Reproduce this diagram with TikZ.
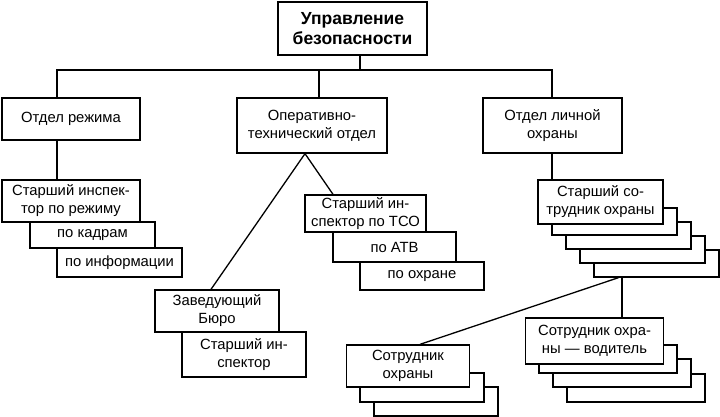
\documentclass[tikz,border=0pt]{standalone}
\usepackage{fontspec}
\setmainfont{Liberation Sans}
\begin{document}
\begin{tikzpicture}[x=1pt,y=-1pt,
  box/.style={draw, line width=1.3pt, fill=white, inner sep=0pt, align=center,
    font=\fontsize{14.8}{18}\selectfont},
  conn/.style={line width=1.3pt}]
\useasboundingbox (0,0) rectangle (720,417);
% top
\node[box, minimum width=149pt, minimum height=53pt, font=\fontsize{17.5}{20}\selectfont\bfseries] (top) at (352.5,28.5) {Управление\\безопасности};
% departments
\node[box, minimum width=138pt, minimum height=42pt] (rez) at (71,119) {Отдел режима};
\node[box, minimum width=150pt, minimum height=55pt] (oper) at (312,125.5) {Оперативно-\\технический отдел};
\node[box, minimum width=139pt, minimum height=55pt] (lich) at (552.5,125.5) {Отдел личной\\охраны};
% regime branch
\node[box, minimum width=138pt, minimum height=42pt] (sir) at (71,201) {Старший инспек-\\тор по режиму};
\node[box, minimum width=125pt, minimum height=26pt] (kadr) at (92.5,235) {по кадрам};
\node[box, minimum width=125pt, minimum height=29pt] (info) at (119.5,262.5) {по информации};
% operative branch
\node[box, minimum width=121pt, minimum height=37pt] (tso) at (365.5,213.5) {Старший ин-\\спектор по ТСО};
\node[box, minimum width=123pt, minimum height=30pt] (atv) at (394.5,247) {по АТВ};
\node[box, minimum width=124pt, minimum height=28pt] (ohr) at (422,276) {по охране};
\node[box, minimum width=124pt, minimum height=42pt] (zav) at (217,311) {Заведующий\\Бюро};
\node[box, minimum width=124pt, minimum height=45pt] (si) at (244,354.5) {Старший ин-\\спектор};
% personal guard: senior stack
\node[box, minimum width=125pt, minimum height=27pt] (sso4) at (656.5,263.5) {};
\node[box, minimum width=125pt, minimum height=27pt] (sso3) at (642.5,249.5) {};
\node[box, minimum width=125pt, minimum height=27pt] (sso2) at (628.5,235.5) {};
\node[box, minimum width=125pt, minimum height=27pt] (sso1) at (614.5,221.5) {};
\node[box, minimum width=125pt, minimum height=44pt] (sso) at (600.5,202) {Старший со-\\трудник охраны};
% driver stack
\node[box, minimum width=138pt, minimum height=28pt] (sov3) at (636,388) {};
\node[box, minimum width=138pt, minimum height=28pt] (sov2) at (622,373) {};
\node[box, minimum width=138pt, minimum height=28pt] (sov1) at (608,359) {};
\node[box, minimum width=138pt, minimum height=46pt] (sov) at (594.5,341) {Сотрудник охра-\\ны — водитель};
% guard stack
\node[box, minimum width=124pt, minimum height=29pt] (so2) at (436,401.5) {};
\node[box, minimum width=124pt, minimum height=29pt] (so1) at (422,387.5) {};
\node[box, minimum width=123pt, minimum height=42pt] (so) at (408,366) {Сотрудник\\охраны};
% connectors
\coordinate (jt) at (360,70);
\coordinate (jl) at (57,70);
\coordinate (jm) at (319,70);
\coordinate (jr) at (552,70);
\draw[conn] (top.south -| jt) -- (jt);
\draw[conn] (jl |- rez.north) -- (jl) -- (jr) -- (jr |- lich.north);
\draw[conn] (jm) -- (jm |- oper.north);
\draw[conn] (rez.south -| jl) -- (sir.north -| jl);
\draw[conn] ([xshift=-6pt]zav.north) -- ([xshift=-7pt]oper.south) -- ([xshift=-32.5pt]tso.north);
\draw[conn] (lich.south -| jr) -- (sso.north -| jr);
\draw[conn] ([xshift=-34.5pt]sso4.south) -- ([xshift=-34.5pt]sso4.south |- sov.north);
\draw[conn] ([xshift=-38pt]sso4.south) -- ([xshift=12pt]so.north);
\end{tikzpicture}
\end{document}
